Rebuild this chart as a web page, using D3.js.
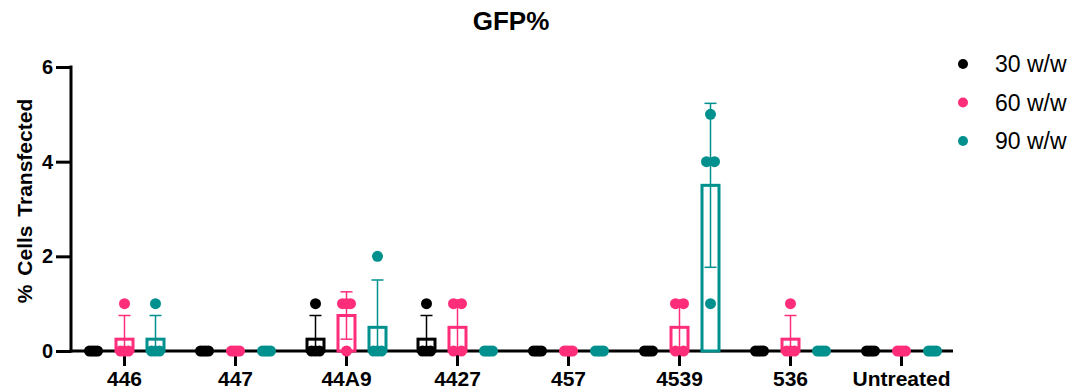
<!DOCTYPE html>
<html>
<head>
<meta charset="utf-8">
<script src="https://cdn.jsdelivr.net/npm/d3@7"></script>
<style>
  body { margin: 0; background: #fff; }
  text { font-family: "Liberation Sans", Arial, sans-serif; }
</style>
</head>
<body>
<svg width="1070" height="391"></svg>
<script>
var groups = ["446", "447", "44A9", "4427", "457", "4539", "536", "Untreated"];
var seriesNames = ["30 w/w", "60 w/w", "90 w/w"];
var seriesColors = ["#000000", "#ff2d7a", "#00908e"];
var yTicks = [0, 2, 4, 6];

// replicates per group
var values30 = [[0,0,0,0],[0,0,0,0],[1,0,0,0],[1,0,0,0],[0,0,0,0],[0,0,0,0],[0,0,0,0],[0,0,0,0]];
var values60 = [[1,0,0,0],[0,0,0,0],[1,1,1,0],[1,1,0,0],[0,0,0,0],[1,1,0,0],[1,0,0,0],[0,0,0,0]];
var values90 = [[1,0,0,0],[0,0,0,0],[2,0,0,0],[0,0,0,0],[0,0,0,0],[5,4,4,1],[0,0,0,0],[0,0,0,0]];
var allValues = [values30, values60, values90];

var svg = d3.select("svg"),
    top0 = 67, bottom0 = 351, left0 = 71, right0 = 953;

var x = d3.scaleBand().domain(groups).range([69, 957]);
var xs = d3.scalePoint().domain(seriesNames).range([-31, 31]);
var y = d3.scaleLinear().domain([0, 6]).range([bottom0, top0]);

// title
svg.append("text")
    .attr("x", 511).attr("y", 30)
    .attr("text-anchor", "middle")
    .style("font-size", "26px").style("font-weight", "bold")
    .text("GFP%");

// y label
svg.append("text")
    .attr("transform", "translate(32,201) rotate(-90)")
    .attr("text-anchor", "middle")
    .style("font-size", "21px").style("font-weight", "bold")
    .style("word-spacing", "3px")
    .text("% Cells Transfected");

// y axis
var yAxis = svg.append("g")
    .attr("transform", "translate(" + left0 + ",0)")
    .call(d3.axisLeft(y).tickValues(yTicks).tickFormat(d3.format("d")).tickSize(15).tickPadding(3));
yAxis.select(".domain").attr("d", "M0," + (top0 - 1.5) + "V" + (bottom0 + 1.5))
    .attr("stroke-width", 3);
yAxis.selectAll(".tick line").attr("stroke-width", 3);
yAxis.selectAll(".tick text")
    .style("font-size", "20px").style("font-weight", "bold")
    .attr("fill", "#000");

// x axis
var xAxis = svg.append("g")
    .attr("transform", "translate(0," + bottom0 + ")")
    .call(d3.axisBottom(x).tickSize(15).tickPadding(5));
xAxis.select(".domain").attr("d", "M" + (left0 - 1.5) + ",0H" + right0)
    .attr("stroke-width", 3);
xAxis.selectAll(".tick line").attr("stroke-width", 3);
xAxis.selectAll(".tick text")
    .style("font-size", "21px").style("font-weight", "bold")
    .attr("fill", "#000");

// bars, error bars, points
allValues.forEach(function(vals, si) {
  var color = seriesColors[si];
  var g = svg.append("g");
  vals.forEach(function(reps, gi) {
    var cx = x(groups[gi]) + x.bandwidth() / 2 + xs(seriesNames[si]);
    var m = d3.mean(reps), sd = d3.deviation(reps);
    if (m > 0) {
      g.append("rect")
          .attr("x", cx - 8.5).attr("y", y(m))
          .attr("width", 17).attr("height", y(0) - y(m))
          .attr("fill", "#fff").attr("stroke", color).attr("stroke-width", 3);
      var lo = Math.max(0, m - sd), hi = m + sd;
      g.append("line")
          .attr("x1", cx).attr("x2", cx).attr("y1", y(lo)).attr("y2", y(hi))
          .attr("stroke", color).attr("stroke-width", 1.5);
      [hi, m - sd].forEach(function(v) {
        if (v > 0) {
          g.append("line")
              .attr("x1", cx - 6).attr("x2", cx + 6).attr("y1", y(v)).attr("y2", y(v))
              .attr("stroke", color).attr("stroke-width", 1.5);
        }
      });
    }
    var counts = d3.rollup(reps, function(v) { return v.length; }, function(d) { return d; });
    var seen = new Map();
    reps.forEach(function(v) {
      var n = counts.get(v), i = seen.get(v) || 0;
      seen.set(v, i + 1);
      var off = n > 1 ? -4 + 8 * i / (n - 1) : 0;
      g.append("circle")
          .attr("cx", cx + off).attr("cy", y(v)).attr("r", 5.5)
          .attr("fill", color);
    });
  });
});

// legend
var legend = svg.append("g");
seriesNames.forEach(function(name, i) {
  var ly = 64 + i * 38.5;
  legend.append("circle").attr("cx", 963).attr("cy", ly).attr("r", 5).attr("fill", seriesColors[i]);
  legend.append("text").attr("x", 995).attr("y", ly + 8)
      .style("font-size", "23px").text(name);
});
</script>
</body>
</html>
